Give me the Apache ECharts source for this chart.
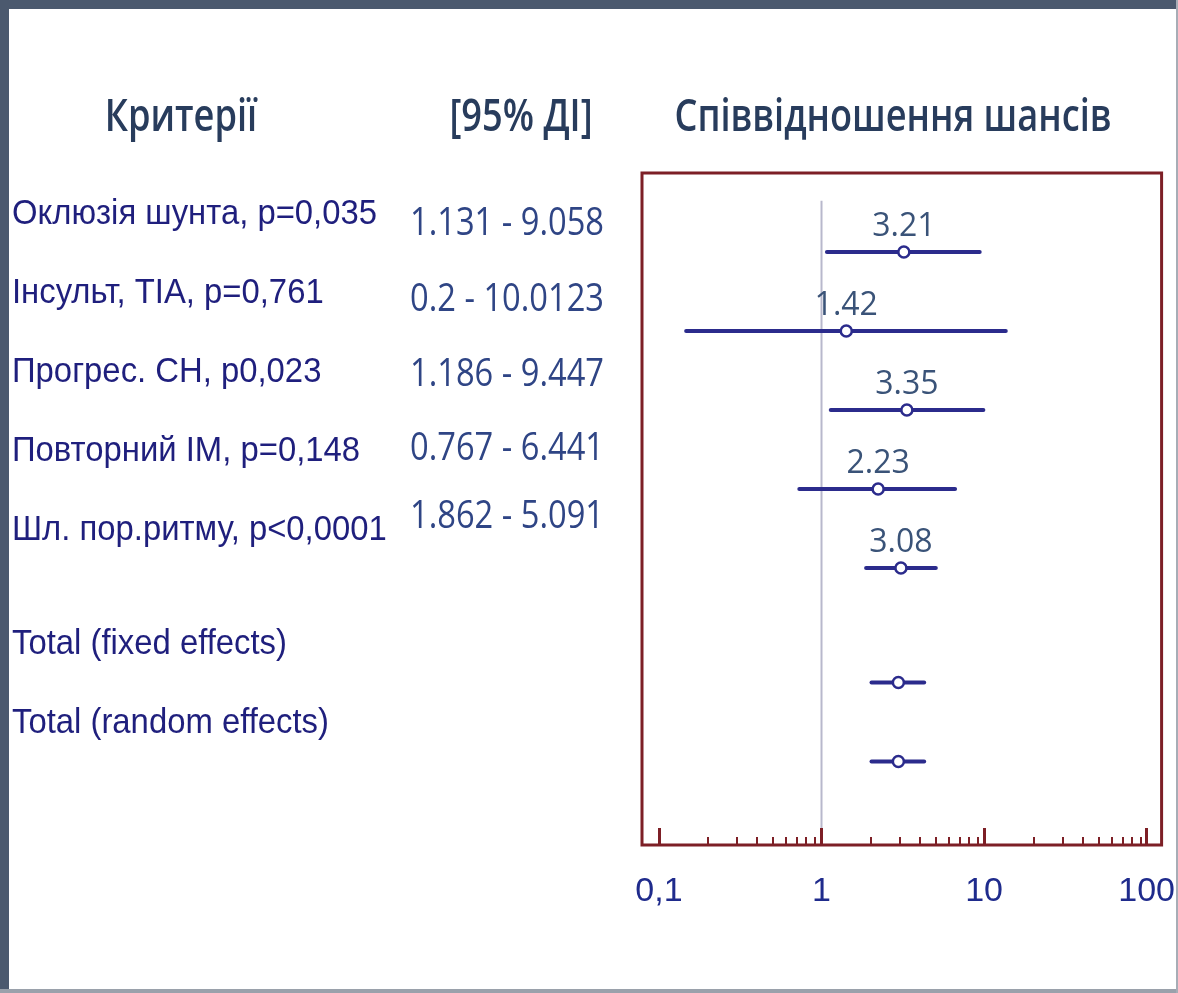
<!DOCTYPE html>
<html><head><meta charset="utf-8">
<script src="https://cdn.jsdelivr.net/npm/echarts@6/dist/echarts.min.js"></script>
<style>html,body{margin:0;padding:0;background:#fff}#c{width:1178px;height:993px}</style>
</head><body><div id="c"></div>
<script>
// ---------------- DATA ----------------
const headers = ['Критерії', '[95% ДІ]', 'Співвідношення шансів'];
const criteria = [
  'Оклюзія шунта, p=0,035',
  'Інсульт, TIA, p=0,761',
  'Прогрес. СН, p0,023',
  'Повторний ІМ, p=0,148',
  'Шл. пор.ритму, p<0,0001',
  'Total (fixed effects)',
  'Total (random effects)'
];
const ciText = ['1.131 - 9.058', '0.2 - 10.0123', '1.186 - 9.447', '0.767 - 6.441', '1.862 - 5.091'];
const oddsRatio = [3.21, 1.42, 3.35, 2.23, 3.08, 2.97, 2.97];
const ciLower = [1.08, 0.147, 1.14, 0.73, 1.88, 2.03, 2.03];
const ciUpper = [9.4, 13.6, 9.9, 6.63, 5.05, 4.28, 4.28];
const orLabels = ['3.21', '1.42', '3.35', '2.23', '3.08', '', ''];
const rowPos = [1, 2, 3, 4, 5, 6.45, 7.45];
const majorTicks = [0.1, 1, 10, 100];
const majorTickLabels = ['0,1', '1', '10', '100'];
const minorTicks = [0.2, 0.3, 0.4, 0.5, 0.6, 0.7, 0.8, 0.9, 2, 3, 4, 5, 6, 7, 8, 9, 20, 30, 40, 50, 60, 70, 80, 90];
const refValue = 1;

// ---------------- LAYOUT ----------------
const Y_MAX = 8.506;
const X_MIN = Math.pow(10, -1 - 17 / 163);
const X_MAX = Math.pow(10, 2 + 15 / 163);
const C_BOX = '#7d1f26', C_LINE = '#2b2b8c';
const GRID = {left: 642, right: 15, top: 173, bottom: 148};

const chart = echarts.init(document.getElementById('c'));
const tickFmt = v => {
  const i = majorTicks.findIndex(t => Math.abs(Math.log10(t) - Math.log10(v)) < 1e-6);
  return i >= 0 ? majorTickLabels[i] : '';
};
const xCommon = {type: 'log', logBase: 10, min: X_MIN, max: X_MAX, position: 'bottom', z: 5,
  axisLine: {show: false, onZero: false}, splitLine: {show: false}, minorTick: {show: false}};

chart.setOption({
  animation: false,
  backgroundColor: '#ffffff',
  grid: [
    Object.assign({show: true, borderColor: C_BOX, borderWidth: 3, backgroundColor: 'transparent'}, GRID),
    Object.assign({show: false}, GRID)
  ],
  xAxis: [
    Object.assign({}, xCommon, {gridIndex: 0,
      axisTick: {show: true, inside: true, length: 17, customValues: majorTicks, lineStyle: {color: C_BOX, width: 3}},
      axisLabel: {show: true, customValues: majorTicks, formatter: tickFmt, margin: 30, fontSize: 34,
        fontFamily: "'Liberation Sans', Arial, sans-serif", color: '#1f2b8c', showMinLabel: true, showMaxLabel: true}
    }),
    Object.assign({}, xCommon, {gridIndex: 1,
      axisTick: {show: true, inside: true, length: 8, customValues: minorTicks, lineStyle: {color: C_BOX, width: 2}},
      axisLabel: {show: false}
    })
  ],
  yAxis: [
    {gridIndex: 0, type: 'value', min: 0, max: Y_MAX, inverse: true, show: false},
    {gridIndex: 1, type: 'value', min: 0, max: Y_MAX, inverse: true, show: false}
  ],
  series: [
    {type: 'line', data: [[refValue, 0.35], [refValue, Y_MAX]], symbol: 'none', silent: true,
      lineStyle: {color: '#b8b8cc', width: 2}, z: 1},
    {type: 'custom',
      data: rowPos.map((p, i) => [ciLower[i], ciUpper[i], p]),
      encode: {x: [0, 1], y: 2},
      renderItem: (params, api) => {
        const a = api.coord([api.value(0), api.value(2)]);
        const b = api.coord([api.value(1), api.value(2)]);
        return {type: 'line', shape: {x1: a[0], y1: a[1], x2: b[0], y2: b[1]},
          style: {stroke: C_LINE, lineWidth: 4, lineCap: 'round'}};
      }, z: 2},
    {type: 'scatter',
      data: rowPos.map((p, i) => [oddsRatio[i], p]),
      symbol: 'circle', symbolSize: 11,
      itemStyle: {color: '#ffffff', borderColor: C_LINE, borderWidth: 2.5, opacity: 1},
      label: {show: true, position: 'top', distance: 2, formatter: p => orLabels[p.dataIndex],
        fontSize: 32, fontFamily: "'Open Sans', 'Noto Sans', sans-serif", color: '#3a5378'},
      z: 3}
  ]
});

// ---------------- TEXT COLUMNS (positioned from the chart's own y scale) ----------------
const ctx = document.createElement('canvas').getContext('2d');
const measure = (t, size, fam, w) => { ctx.font = (w || 'normal') + ' ' + size + 'px ' + fam; return ctx.measureText(t).width; };
const rowY = rowPos.map(p => chart.convertToPixel({gridIndex: 0}, [1, p])[1]);

const HF = "'Open Sans', 'Noto Sans', sans-serif";
const hSize = 46, hScale = 437 / measure(headers[2], hSize, HF, '600');
const headerX = [181, 521, 893];
const LF = "'Liberation Sans', Arial, sans-serif";
const lSize = 35, lScale = 365 / measure(criteria[0], lSize, LF);
const cSize = 38, cScale = 194 / measure(ciText[0], cSize, HF);
const ciTextY = [224, 300, 375, 449, 517];

const g = [
  {type: 'rect', shape: {x: 0, y: 0, width: 1178, height: 9}, style: {fill: '#4b596e'}, silent: true},
  {type: 'rect', shape: {x: 0, y: 0, width: 9, height: 993}, style: {fill: '#4b596e'}, silent: true},
  {type: 'rect', shape: {x: 0, y: 989, width: 1178, height: 4}, style: {fill: '#9aa1ab'}, silent: true},
  {type: 'rect', shape: {x: 1176, y: 0, width: 2, height: 993}, style: {fill: '#a7adb6'}, silent: true}
];
headers.forEach((t, i) => g.push({type: 'text', x: headerX[i], y: 118, scaleX: hScale, scaleY: 1,
  style: {text: t, fontSize: hSize, fontFamily: HF, fontWeight: 600, fill: '#283c5c', align: 'center', verticalAlign: 'middle'}}));
criteria.forEach((t, i) => g.push({type: 'text', x: 12, y: rowY[i] - 38, scaleX: lScale, scaleY: 1,
  style: {text: t, fontSize: lSize, fontFamily: LF, fill: '#1f1f7d', align: 'left', verticalAlign: 'middle'}}));
ciText.forEach((t, i) => g.push({type: 'text', x: 410, y: ciTextY[i], scaleX: cScale, scaleY: 1,
  style: {text: t, fontSize: cSize, fontFamily: HF, fill: '#2f4585', align: 'left', verticalAlign: 'middle'}}));
chart.setOption({graphic: g});
</script></body></html>
